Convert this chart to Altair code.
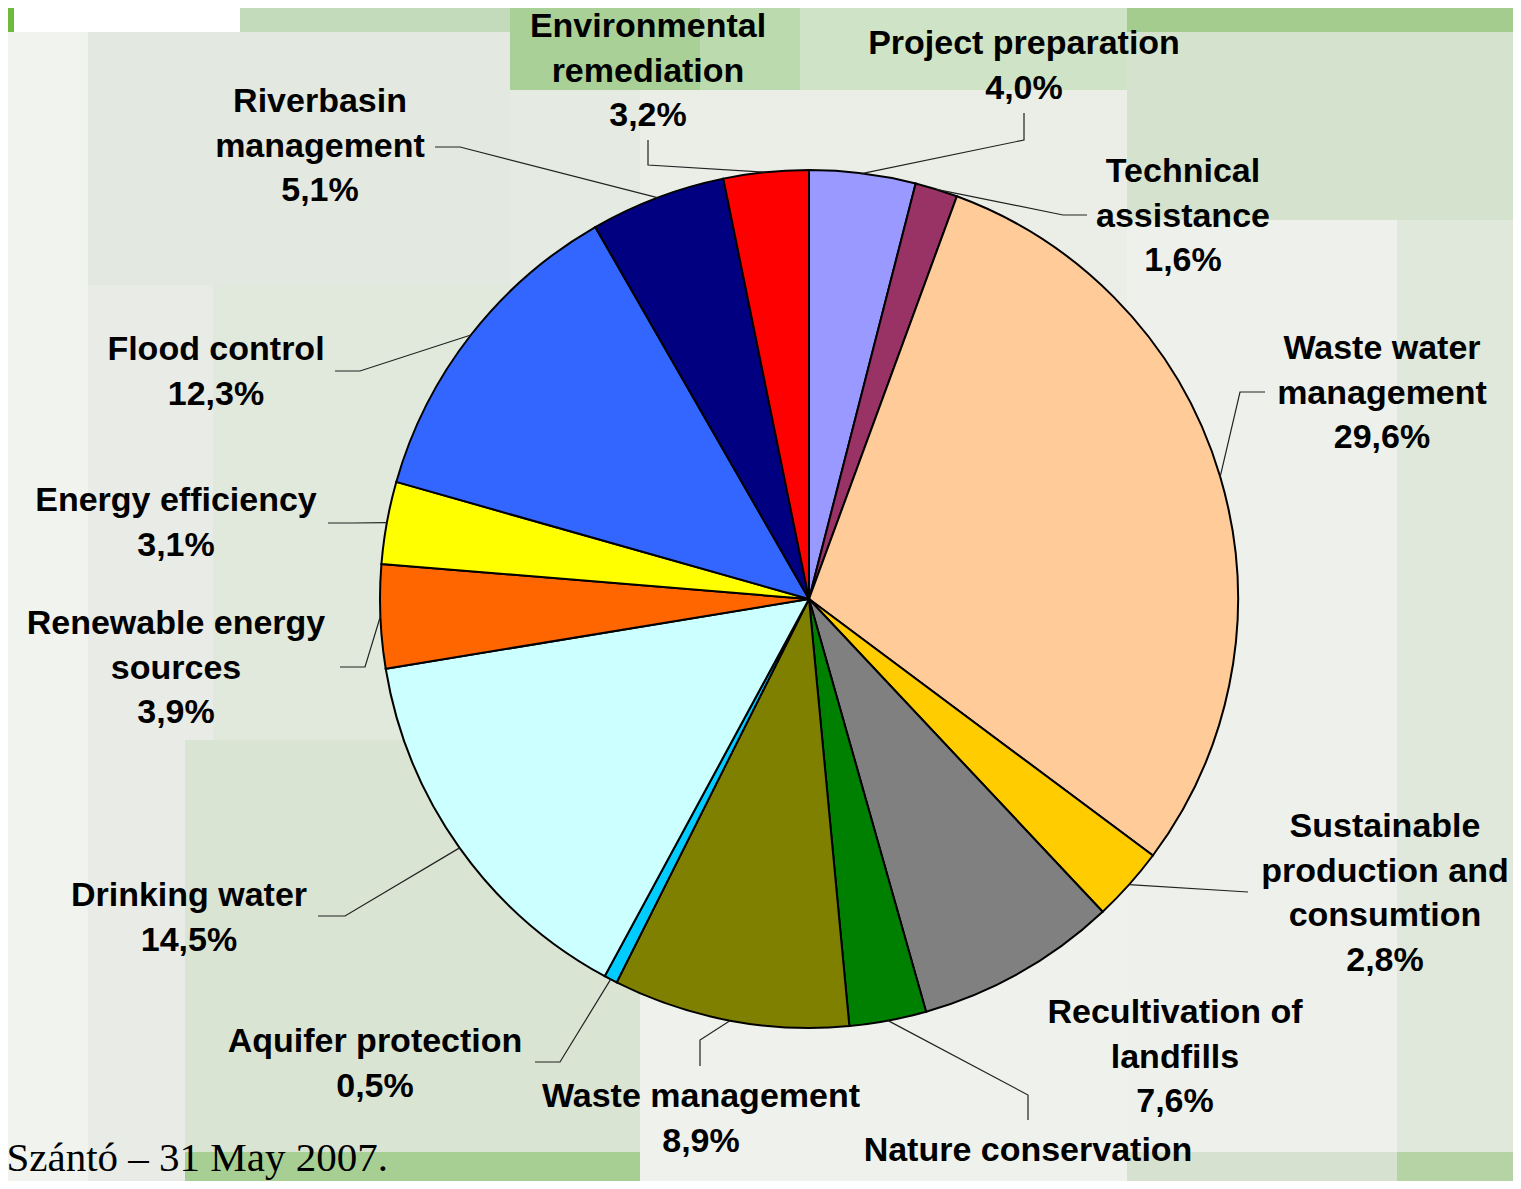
import math
import altair as alt
import pandas as pd

# ---------------- data ----------------
categories = [
    "Project preparation", "Technical assistance", "Waste water management",
    "Sustainable production and consumtion", "Recultivation of landfills",
    "Nature conservation", "Waste management", "Aquifer protection",
    "Drinking water", "Renewable energy sources", "Energy efficiency",
    "Flood control", "Riverbasin management", "Environmental remediation",
]
values = [4.0, 1.6, 29.6, 2.8, 7.6, 2.9, 8.9, 0.5, 14.5, 3.9, 3.1, 12.3, 5.1, 3.2]
value_labels = ["4,0%", "1,6%", "29,6%", "2,8%", "7,6%", "2,9%", "8,9%", "0,5%",
                "14,5%", "3,9%", "3,1%", "12,3%", "5,1%", "3,2%"]
label_names = [
    ["Project preparation"], ["Technical", "assistance"], ["Waste water", "management"],
    ["Sustainable", "production and", "consumtion"], ["Recultivation of", "landfills"],
    ["Nature conservation"], ["Waste management"], ["Aquifer protection"],
    ["Drinking water"], ["Renewable energy", "sources"], ["Energy efficiency"],
    ["Flood control"], ["Riverbasin", "management"], ["Environmental", "remediation"],
]
colors = ["#9999FF", "#993366", "#FFCC99", "#FFCC00", "#808080", "#008000", "#808000",
          "#00CCFF", "#CCFFFF", "#FF6600", "#FFFF00", "#3366FF", "#000080", "#FF0000"]
footer = "Szántó –  31 May 2007."

# ---------------- layout (reference pixel coords) ----------------
OFF = 8
CX, CY, R = 809, 599, 429
LINE_H = 44.5
# label block: centre x, first line centre y
label_pos = [(1024, 44), (1183, 172), (1382, 349), (1385, 827), (1175, 1013),
             (1028, 1151), (701, 1097), (375, 1042), (189, 896), (176, 624),
             (176, 501), (216, 350), (320, 102), (648, 27)]
# leader elbow and end points (None = no leader)
leaders = [((1024, 140), (1024, 113)), ((1063, 215), (1087, 215)),
           ((1240, 392), (1265, 392)), ((1248, 892), (1248, 892)), None,
           ((1028, 1095), (1028, 1120)), ((700, 1040), (700, 1066)),
           ((560, 1062), (535, 1062)), ((345, 916), (318, 916)),
           ((365, 667), (340, 667)), ((353, 523), (328, 523)),
           ((360, 371), (335, 371)), ((460, 147), (435, 147)),
           ((648, 165), (648, 140))]
bg_rects = [
    (0, 0, 14, 32, "#6DBA3E"), (14, 0, 240, 32, "#FFFFFF"), (240, 0, 510, 32, "#C3DBBB"),
    (510, 0, 1127, 90, "#CFE3C6"), (510, 0, 700, 90, "#A9D197"), (700, 0, 800, 90, "#BBDAAD"),
    (1127, 0, 1521, 32, "#A3CC8E"), (0, 32, 88, 1189, "#F1F3EF"), (88, 32, 510, 285, "#E3E8E0"),
    (88, 285, 213, 1152, "#E8EBE6"), (213, 285, 640, 740, "#E1E8DC"),
    (185, 740, 640, 1152, "#DAE4D3"), (640, 90, 1127, 1189, "#EAEEE7"),
    (640, 880, 1127, 1189, "#EFF2EC"),
    (1127, 32, 1521, 220, "#D5E2CE"), (1127, 220, 1397, 1152, "#EEF1EB"),
    (1397, 220, 1521, 1152, "#DFE8DA"), (185, 1152, 640, 1189, "#A7CF94"),
    (88, 1152, 185, 1189, "#E8EBE6"),
    (1127, 1152, 1397, 1189, "#D6E2CF"), (1397, 1152, 1521, 1189, "#B5D3A5"),
]

# ---------------- tables ----------------
pie_df = pd.DataFrame({"cat": categories, "value": values, "idx": range(len(categories))})

total = sum(values)
cum = 0.0
lead_rows, text_rows = [], []
for i, (cat, v) in enumerate(zip(categories, values)):
    mid = (cum + v / 2) / total * 2 * math.pi
    cum += v
    sx, sy = CX + R * math.sin(mid), CY - R * math.cos(mid)
    if leaders[i] is not None:
        (ex, ey), (fx, fy) = leaders[i]
        for s, (px, py) in enumerate([(sx, sy), (ex, ey), (fx, fy)]):
            lead_rows.append({"cat": cat, "seq": s, "x": px - OFF, "y": py - OFF})
    lx, ly = label_pos[i]
    lines = label_names[i] + [value_labels[i]]
    for k, t in enumerate(lines):
        text_rows.append({"cat": cat, "t": t, "x": lx - OFF, "y": ly + k * LINE_H - OFF})
lead_df = pd.DataFrame(lead_rows)
text_df = pd.DataFrame(text_rows)
bg_df = pd.DataFrame([{"x": a - OFF, "y": b - OFF, "x2": c - OFF, "y2": d - OFF, "c": col}
                      for a, b, c, d, col in bg_rects])

X = lambda f: alt.X(f, scale=None, axis=None)
Y = lambda f: alt.Y(f, scale=None, axis=None)

bg = alt.Chart(bg_df).mark_rect().encode(
    x=X("x:Q"), x2="x2:Q", y=Y("y:Q"), y2="y2:Q", color=alt.Color("c:N", scale=None))

pie = alt.Chart(pie_df).mark_arc(
    radius=R, stroke="black", strokeWidth=2, x=CX - OFF, y=CY - OFF
).encode(
    theta=alt.Theta("value:Q", stack=True),
    color=alt.Color("cat:N", scale=alt.Scale(domain=categories, range=colors), legend=None),
    order=alt.Order("idx:Q"),
)

lead = alt.Chart(lead_df).mark_line(color="#222222", strokeWidth=1.2).encode(
    x=X("x:Q"), y=Y("y:Q"), detail="cat:N", order="seq:Q")

labels = alt.Chart(text_df).mark_text(
    font="Liberation Sans", fontWeight="bold", fontSize=34, align="center",
    baseline="middle", color="black"
).encode(x=X("x:Q"), y=Y("y:Q"), text="t:N")

foot_df = pd.DataFrame({"t": [footer], "x": [388 - OFF], "y": [1163]})
foot = alt.Chart(foot_df).mark_text(
    font="Liberation Serif", fontSize=41, align="right", baseline="alphabetic", color="black"
).encode(x=X("x:Q"), y=Y("y:Q"), text="t:N")

chart = alt.layer(bg, pie, lead, labels, foot).properties(
    width=1505, height=1173, padding=0, autosize="none", background="#E5EAE2"
).configure_view(stroke=None)

chart.save("out.html", embed_options={"renderer": "svg", "actions": False})
